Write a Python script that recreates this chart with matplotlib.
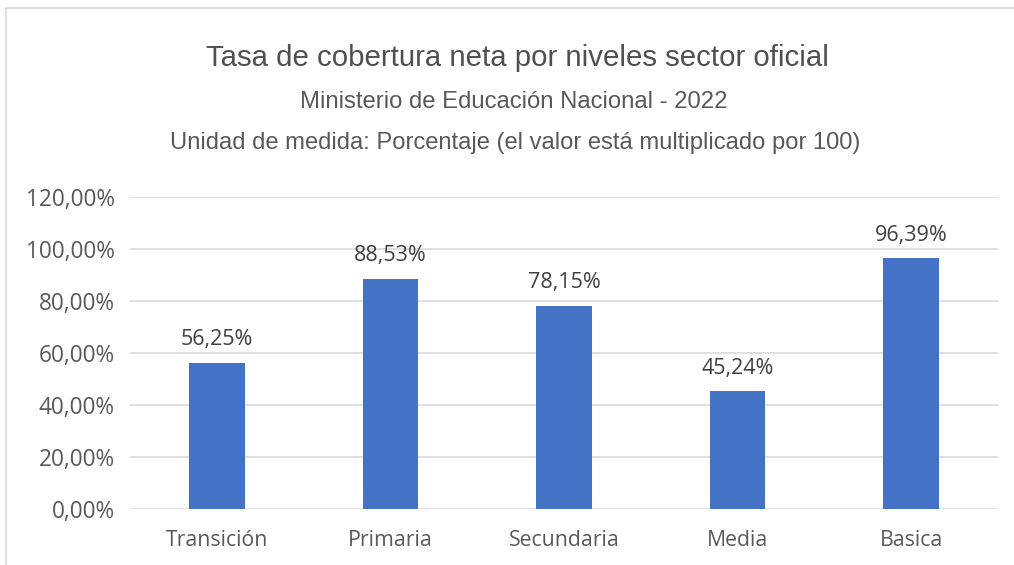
import matplotlib.pyplot as plt
from matplotlib.patches import Rectangle

niveles = ["Transición", "Primaria", "Secundaria", "Media", "Basica"]
cobertura = [56.25, 88.53, 78.15, 45.24, 96.39]
y_ticks = [0, 20, 40, 60, 80, 100, 120]

gris = "#595959"
azul = "#4472C4"

fig = plt.figure(figsize=(10.14, 5.65), dpi=100)
ax = fig.add_axes([130 / 1014, 1 - 509 / 565, 868 / 1014, (509 - 197) / 565])

x = range(len(niveles))
bars = ax.bar(x, cobertura, width=0.32, color=azul, zorder=3)

for xi, v in zip(x, cobertura):
    ax.annotate(f"{v:.2f}%".replace(".", ","), (xi, v), xytext=(0, 9),
                textcoords="offset points", ha="center", va="bottom",
                fontsize=15.5, color="#404040", family="Open Sans")

ax.set_xlim(-0.5, len(niveles) - 0.5)
ax.set_ylim(0, 120)
ax.set_yticks(y_ticks)
ax.set_yticklabels([f"{t:.2f}%".replace(".", ",") for t in y_ticks])
ax.set_xticks(list(x))
ax.set_xticklabels(niveles)
ax.yaxis.grid(True, color="#D9D9D9", linewidth=1.2, zorder=0)
ax.tick_params(length=0, labelcolor=gris)
ax.tick_params(axis="x", labelsize=15.3, pad=15)
ax.tick_params(axis="y", labelsize=16.3, pad=11)
for lab in ax.get_xticklabels() + ax.get_yticklabels():
    lab.set_family("Open Sans")
for s in ax.spines.values():
    s.set_visible(False)

fig.text(517 / 1014, 1 - 58 / 565, "Tasa de cobertura neta por niveles sector oficial",
         ha="center", va="center", fontsize=21.2, color="#505050", family="Liberation Sans")
fig.text(514 / 1014, 1 - 102 / 565, "Ministerio de Educación Nacional - 2022",
         ha="center", va="center", fontsize=17.2, color=gris, family="Liberation Sans")
fig.text(515 / 1014, 1 - 143 / 565,
         "Unidad de medida: Porcentaje (el valor está multiplicado por 100)",
         ha="center", va="center", fontsize=17.1, color=gris, family="Liberation Sans")

# marco del gráfico
fig.patches.append(Rectangle((6 / 1014, -0.1), 1.1, 1 - 8 / 565 + 0.1,
                             transform=fig.transFigure, fill=False,
                             edgecolor="#D9D9D9", linewidth=1.2))

fig.savefig("out.png", dpi=100)
